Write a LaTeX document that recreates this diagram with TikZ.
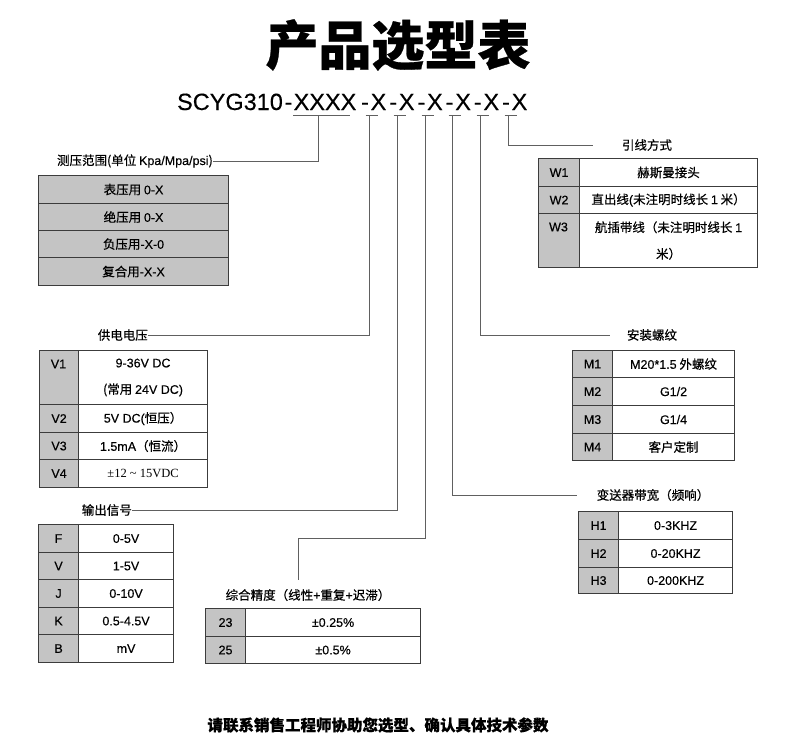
\documentclass[tikz,border=0pt]{standalone}
\usepackage{fontspec}
\setmainfont{Noto Sans CJK SC}[FakeBold=0.5]
\newfontfamily\arial{Liberation Sans}[FakeBold=0.3]
\newfontfamily\tnr{Liberation Serif}
\newcommand{\la}[1]{{\arial #1}}
\definecolor{grayc}{HTML}{C4C4C4}
\definecolor{borderc}{HTML}{3C3C3C}
\definecolor{linec}{HTML}{606060}
\begin{document}
\begin{tikzpicture}[x=1pt,y=-1pt,
  conn/.style={draw=linec, line width=1pt},
  cell/.style={draw=borderc, line width=1.1pt, inner sep=0pt, anchor=north west,
    font=\fontsize{12.5}{26.5}\selectfont, align=center},
  kcell/.style={cell, fill=grayc, font=\arial\fontsize{12.5}{15}\selectfont},
  ktext/.style={inner sep=0pt, font=\arial\fontsize{12.5}{15}\selectfont},
  lab/.style={inner sep=0pt, font=\fontsize{12.5}{15}\selectfont},
  code/.style={inner sep=0pt, anchor=base, font=\arial\fontsize{23.5}{28}\selectfont},
]
\useasboundingbox[fill=white] (0,0) rectangle (790,755);

% title
\node[font=\bfseries\fontsize{53}{60}\selectfont] (title) at (398,45) {产品选型表};

% code line
\node[code] (s0) at (230,110) {SCYG310};
\node[code] (d0) at (288.5,110) {-};
\node[code] (xa) at (325,110) {XXXX};
\node[code] (d1) at (365,110) {-};
\node[code] (x1) at (378.5,110) {X};
\node[code] (d2) at (393.2,110) {-};
\node[code] (x2) at (406.7,110) {X};
\node[code] (d3) at (421.4,110) {-};
\node[code] (x3) at (434.9,110) {X};
\node[code] (d4) at (449.6,110) {-};
\node[code] (x4) at (463.1,110) {X};
\node[code] (d5) at (477.8,110) {-};
\node[code] (x5) at (491.3,110) {X};
\node[code] (d6) at (506,110) {-};
\node[code] (x6) at (519.5,110) {X};

% tap points under the code
\coordinate (t0) at (318,115);
\coordinate (t1) at (369,115);
\coordinate (t2) at (397,115);
\coordinate (t3) at (425,115);
\coordinate (t4) at (452,115);
\coordinate (t5) at (480,115);
\coordinate (t6) at (508,115);
\draw[conn] ([xshift=-25pt]t0) -- ([xshift=32pt]t0);
\foreach \t in {t1,t2,t3,t4,t5,t6}{
  \draw[conn] ([xshift=-3.5pt]\t) -- ([xshift=8.5pt]\t);
}

% ---------- pressure range ----------
\node[lab, anchor=east] (lp) at (213,161) {测压范围(单位 \la{Kpa/Mpa/psi})};
\draw[conn] (t0) |- (lp.east);
\node[cell, fill=grayc, minimum width=190pt, minimum height=28pt] (p1) at (38,175) {表压用 \la{0-X}};
\node[cell, fill=grayc, minimum width=190pt, minimum height=27pt] (p2) at (38,203) {绝压用 \la{0-X}};
\node[cell, fill=grayc, minimum width=190pt, minimum height=27pt] (p3) at (38,230) {负压用\la{-X-0}};
\node[cell, fill=grayc, minimum width=190pt, minimum height=28pt] (p4) at (38,257) {复合用\la{-X-X}};

% ---------- supply voltage ----------
\node[lab, anchor=east] (lv) at (148,335) {供电电压};
\draw[conn] (t1) |- (lv.east);
\node[kcell, minimum width=39pt, minimum height=54pt] (v1k) at (39,350) {};
\node[ktext] (v1t) at (58.5,364) {V1};
\node[cell, minimum width=129pt, minimum height=54pt] (v1v) at (78,350) {\la{9-36V DC}\\(常用 \la{24V DC)}};
\node[kcell, minimum width=39pt, minimum height=28pt] (v2k) at (39,404) {V2};
\node[cell, minimum width=129pt, minimum height=28pt] (v2v) at (78,404) {\la{5V DC(}恒压）};
\node[kcell, minimum width=39pt, minimum height=27pt] (v3k) at (39,432) {V3};
\node[cell, minimum width=129pt, minimum height=27pt] (v3v) at (78,432) {\la{1.5mA}（恒流）};
\node[kcell, minimum width=39pt, minimum height=28pt] (v4k) at (39,459) {V4};
\node[cell, minimum width=129pt, minimum height=28pt] (v4v) at (78,459) {{\tnr ±12 \textasciitilde{} 15VDC}};

% ---------- output signal ----------
\node[lab, anchor=east] (lo) at (132,510) {输出信号};
\draw[conn] (t2) |- (lo.east);
\node[kcell, minimum width=40pt, minimum height=28pt] (fk) at (38,524) {F};
\node[cell, minimum width=95pt, minimum height=28pt] (fv) at (78,524) {\la{0-5V}};
\node[kcell, minimum width=40pt, minimum height=27pt] (vk) at (38,552) {V};
\node[cell, minimum width=95pt, minimum height=27pt] (vv) at (78,552) {\la{1-5V}};
\node[kcell, minimum width=40pt, minimum height=28pt] (jk) at (38,579) {J};
\node[cell, minimum width=95pt, minimum height=28pt] (jv) at (78,579) {\la{0-10V}};
\node[kcell, minimum width=40pt, minimum height=27pt] (kk) at (38,607) {K};
\node[cell, minimum width=95pt, minimum height=27pt] (kv) at (78,607) {\la{0.5-4.5V}};
\node[kcell, minimum width=40pt, minimum height=28pt] (bk) at (38,634) {B};
\node[cell, minimum width=95pt, minimum height=28pt] (bv) at (78,634) {\la{mV}};

% ---------- accuracy ----------
\node[lab] (la) at (308,595) {综合精度（线性\la{+}重复\la{+}迟滞）};
\coordinate (c3) at (298,538);
\coordinate (c3e) at (298,580);
\draw[conn] (t3) -- (t3 |- c3) -- (c3) -- (c3e);
\node[kcell, minimum width=40pt, minimum height=28pt] (a1k) at (205,608) {23};
\node[cell, minimum width=175pt, minimum height=28pt] (a1v) at (245,608) {\la{±0.25\%}};
\node[kcell, minimum width=40pt, minimum height=27pt] (a2k) at (205,636) {25};
\node[cell, minimum width=175pt, minimum height=27pt] (a2v) at (245,636) {\la{±0.5\%}};

% ---------- bandwidth ----------
\node[lab] (lh) at (653,495) {变送器带宽（频响）};
\coordinate (c4) at (577,495);
\draw[conn] (t4) |- (c4);
\node[kcell, minimum width=40pt, minimum height=28pt] (h1k) at (578,511) {H1};
\node[cell, minimum width=114pt, minimum height=28pt] (h1v) at (618,511) {\la{0-3KHZ}};
\node[kcell, minimum width=40pt, minimum height=28pt] (h2k) at (578,539) {H2};
\node[cell, minimum width=114pt, minimum height=28pt] (h2v) at (618,539) {\la{0-20KHZ}};
\node[kcell, minimum width=40pt, minimum height=26pt] (h3k) at (578,567) {H3};
\node[cell, minimum width=114pt, minimum height=26pt] (h3v) at (618,567) {\la{0-200KHZ}};

% ---------- thread ----------
\node[lab] (lm) at (652,335) {安装螺纹};
\coordinate (c5) at (610,335);
\draw[conn] (t5) |- (c5);
\node[kcell, minimum width=40pt, minimum height=27pt] (m1k) at (572,350) {M1};
\node[cell, minimum width=122pt, minimum height=27pt] (m1v) at (612,350) {\la{M20*1.5} 外螺纹};
\node[kcell, minimum width=40pt, minimum height=28pt] (m2k) at (572,377) {M2};
\node[cell, minimum width=122pt, minimum height=28pt] (m2v) at (612,377) {\la{G1/2}};
\node[kcell, minimum width=40pt, minimum height=28pt] (m3k) at (572,405) {M3};
\node[cell, minimum width=122pt, minimum height=28pt] (m3v) at (612,405) {\la{G1/4}};
\node[kcell, minimum width=40pt, minimum height=27pt] (m4k) at (572,433) {M4};
\node[cell, minimum width=122pt, minimum height=27pt] (m4v) at (612,433) {客户定制};

% ---------- wire ----------
\node[lab] (lw) at (647,145) {引线方式};
\coordinate (c6) at (593,145);
\draw[conn] (t6) |- (c6);
\node[kcell, minimum width=41pt, minimum height=28pt] (w1k) at (538,158) {W1};
\node[cell, minimum width=178pt, minimum height=28pt] (w1v) at (579,158) {赫斯曼接头};
\node[kcell, minimum width=41pt, minimum height=27pt] (w2k) at (538,186) {W2};
\node[cell, minimum width=178pt, minimum height=27pt] (w2v) at (579,186) {直出线\la{(}未注明时线长 \la{1} 米）};
\node[kcell, minimum width=41pt, minimum height=54pt] (w3k) at (538,213) {};
\node[ktext] (w3t) at (558.5,227) {W3};
\node[cell, minimum width=178pt, minimum height=54pt] (w3v) at (579,213) {航插带线（未注明时线长 \la{1}\\米）};

% footer
\node[font=\bfseries\fontsize{15.5}{18}\selectfont] (foot) at (378,725) {请联系销售工程师协助您选型、确认具体技术参数};
\end{tikzpicture}
\end{document}
